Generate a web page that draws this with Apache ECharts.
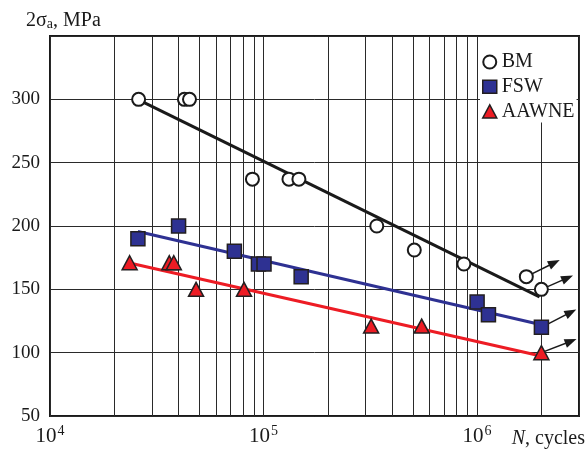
<!DOCTYPE html>
<html><head><meta charset="utf-8">
<script src="https://cdn.jsdelivr.net/npm/echarts@6/dist/echarts.min.js"></script>
<style>html,body{margin:0;padding:0;background:#fff}#c{width:588px;height:449px}</style>
</head><body><div id="c"></div>
<script>
// ---- data ----
const seriesNames = ['BM', 'FSW', 'AAWNE'];

const bmN = [26000, 42600, 45000, 88700, 131500, 146400, 339000, 508000, 867000, 1700000, 2000000];
const bmS = [300, 300, 300, 237, 237, 237, 200, 181, 170, 160, 150];

const fswN = [25800, 40000, 73000, 94600, 100500, 150000, 1000000, 1130000, 2000000];
const fswS = [190, 200, 180, 170, 170, 160, 140, 130, 120];

const awN = [23600, 36200, 38000, 48300, 81000, 319000, 550000, 2000000];
const awS = [171, 171, 171, 150, 150, 121, 121, 100];

// fitted lines (end points)
const bmFitN = [26000, 1960000];  const bmFitS = [299.5, 144];
const fswFitN = [25800, 2000000]; const fswFitS = [195.7, 122];
const awFitN = [24450, 1920000];  const awFitS = [170.2, 98];

// run-out arrows: [from N, from S, to N, to S]
const bmArrows  = [[1700000, 160, 2300000, 171], [2000000, 150, 2650000, 159]];
const fswArrows = [[2000000, 120, 2750000, 132]];
const awArrows  = [[2000000, 100, 2750000, 109]];

// axes
const xMin = 1e4, xMax = 3e6;
const xMinorGrid = [2e4, 3e4, 4e4, 5e4, 6e4, 7e4, 8e4, 9e4, 2e5, 3e5, 4e5, 5e5, 6e5, 7e5, 8e5, 9e5, 2e6];
const yMin = 50, yMax = 350, yStep = 50;
const yLabels = [50, 100, 150, 200, 250, 300];

// ---- chart ----
const FONT = 'Liberation Serif';
const INK = '#1a1a1a';
const GRID = '#2a2a2a';
const BLUE = '#2e3192';
const RED = '#ed1c24';

const zip = (a, b) => a.map((v, i) => [v, b[i]]);
const arrowData = arr => arr.map(a => [{coord: [a[0], a[1]]}, {coord: [a[2], a[3]]}]);
const arrowMark = arr => ({
  silent: true, z: 2, animation: false,
  symbol: ['none', 'triangle'], symbolSize: [9, 12],
  itemStyle: {color: INK},
  lineStyle: {color: INK, width: 1.5, type: 'solid'},
  label: {show: false}, emphasis: {disabled: true},
  data: arrowData(arr)
});

const chart = echarts.init(document.getElementById('c'), null, {renderer: 'canvas'});
chart.setOption({
  animation: false,
  backgroundColor: '#fff',
  title: {
    text: '{t|2σ}{sub|a}{t|, MPa}',
    left: 26, top: 11, padding: 0,
    textStyle: {
      fontWeight: 'normal', fontFamily: FONT,
      rich: {
        t: {fontFamily: FONT, fontSize: 20, fontWeight: 'normal', color: INK},
        sub: {fontFamily: FONT, fontSize: 14, fontWeight: 'normal', color: INK, verticalAlign: 'bottom', padding: [6, 0, 0, 0]}
      }
    }
  },
  grid: {left: 50, right: 7, top: 36, bottom: 33, show: true, borderColor: INK, borderWidth: 2, backgroundColor: 'transparent'},
  legend: {
    orient: 'vertical', left: 480, top: 37,
    padding: [15, 2, 1, 2],
    backgroundColor: '#fff',
    itemWidth: 14, itemHeight: 13, itemGap: 4.7, itemTextGap: 5,
    textStyle: {fontFamily: FONT, fontSize: 20, color: INK, lineHeight: 18},
    data: [
      {name: seriesNames[0], icon: 'circle', itemStyle: {color: '#fff', borderColor: INK, borderWidth: 2}},
      {name: seriesNames[1], icon: 'rect', itemStyle: {color: BLUE, borderColor: '#231f20', borderWidth: 1.5}},
      {name: seriesNames[2], icon: 'triangle', itemStyle: {color: RED, borderColor: '#231f20', borderWidth: 1.5}}
    ],
    selectedMode: false
  },
  xAxis: {
    type: 'log', logBase: 10, min: xMin, max: xMax,
    name: '{i|N}{t|, cycles}', nameLocation: 'end', nameGap: 6,
    nameTextStyle: {
      align: 'right', verticalAlign: 'top', padding: [13, 0, 0, 0],
      rich: {
        i: {fontFamily: FONT, fontSize: 20, fontStyle: 'italic', color: INK},
        t: {fontFamily: FONT, fontSize: 20, color: INK}
      }
    },
    axisLine: {show: false}, axisTick: {show: false},
    splitLine: {show: true, lineStyle: {color: GRID, width: 1}},
    axisLabel: {
      margin: 8, showMaxLabel: false,
      formatter: v => {
        const e = Math.log10(v);
        if (Math.abs(e - Math.round(e)) > 1e-6) return '';
        return '{b|10}{s|' + Math.round(e) + '}';
      },
      rich: {
        b: {fontFamily: FONT, fontSize: 21, color: INK, lineHeight: 24},
        s: {fontFamily: FONT, fontSize: 14, color: INK, verticalAlign: 'top', padding: [0, 0, 0, 1]}
      }
    }
  },
  yAxis: {
    type: 'value', min: yMin, max: yMax, interval: yStep,
    axisLine: {show: false}, axisTick: {show: false},
    splitLine: {show: true, lineStyle: {color: GRID, width: 1}},
    axisLabel: {
      margin: 10, fontFamily: FONT, fontSize: 19, color: INK,
      formatter: v => (yLabels.indexOf(v) >= 0 ? String(v) : '')
    }
  },
  series: [
    {
      name: 'minor grid', type: 'line', data: [], z: 0, silent: true,
      markLine: {
        silent: true, z: 0, animation: false, symbol: ['none', 'none'],
        label: {show: false}, emphasis: {disabled: true},
        lineStyle: {color: GRID, width: 1, type: 'solid'},
        data: xMinorGrid.map(v => ({xAxis: v}))
      }
    },
    {name: 'BM fit', type: 'line', data: zip(bmFitN, bmFitS), showSymbol: false, symbol: 'none', z: 1, silent: true,
     lineStyle: {color: INK, width: 3}},
    {name: 'FSW fit', type: 'line', data: zip(fswFitN, fswFitS), showSymbol: false, symbol: 'none', z: 1, silent: true,
     lineStyle: {color: BLUE, width: 3}},
    {name: 'AAWNE fit', type: 'line', data: zip(awFitN, awFitS), showSymbol: false, symbol: 'none', z: 1, silent: true,
     lineStyle: {color: RED, width: 3}},
    {name: seriesNames[0], type: 'scatter', data: zip(bmN, bmS), z: 3, symbol: 'circle', symbolSize: 13,
     itemStyle: {color: '#fff', borderColor: INK, borderWidth: 2, opacity: 1}, markLine: arrowMark(bmArrows)},
    {name: seriesNames[1], type: 'scatter', data: zip(fswN, fswS), z: 3, symbol: 'rect', symbolSize: 14,
     itemStyle: {color: BLUE, borderColor: '#231f20', borderWidth: 1.5, opacity: 1}, markLine: arrowMark(fswArrows)},
    {name: seriesNames[2], type: 'scatter', data: zip(awN, awS), z: 3, symbol: 'triangle', symbolSize: [15, 14],
     itemStyle: {color: RED, borderColor: '#231f20', borderWidth: 1.5, opacity: 1}, markLine: arrowMark(awArrows)}
  ]
});
</script>
</body></html>
